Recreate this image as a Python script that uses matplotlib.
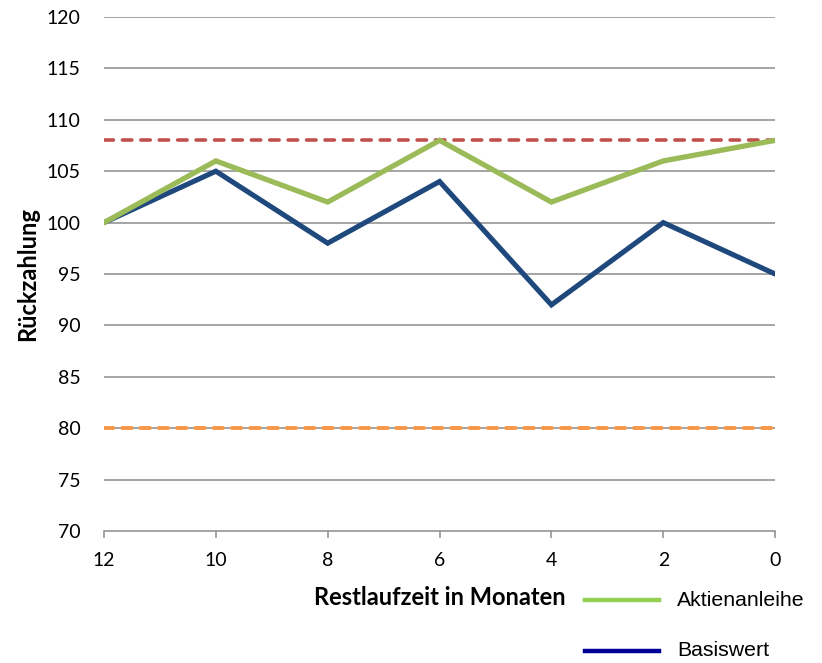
import matplotlib
matplotlib.use("Agg")
import matplotlib.pyplot as plt
from matplotlib.lines import Line2D

months = [12, 10, 8, 6, 4, 2, 0]
aktienanleihe = [100, 106, 102, 108, 102, 106, 108]
basiswert = [100, 105, 98, 104, 92, 100, 95]
cap_level = [108, 108, 108, 108, 108, 108, 108]
barrier_level = [80, 80, 80, 80, 80, 80, 80]
y_ticks = [70, 75, 80, 85, 90, 95, 100, 105, 110, 115, 120]
legend_labels = ["Aktienanleihe", "Basiswert"]

fig = plt.figure(figsize=(8.22, 6.63), dpi=100)
ax = fig.add_axes([0.1265, 0.199, 0.8165, 0.7754])

grid_col = "#8C8C8C"
for y in y_ticks[1:]:
    ax.axhline(y, color=grid_col, lw=1.1, zorder=1)

ax.plot(months, cap_level, color="#C0504D", lw=2.6, dashes=(2.6, 2.5),
        dash_capstyle="round", zorder=3)
ax.plot(months, barrier_level, color="#F79646", lw=2.8, dashes=(2.4, 2.3),
        dash_capstyle="round", zorder=3)
ax.plot(months, basiswert, color="#1F497D", lw=3.7, solid_capstyle="round",
        solid_joinstyle="miter", zorder=4)
ax.plot(months, aktienanleihe, color="#9BBB59", lw=3.8, solid_capstyle="round",
        solid_joinstyle="miter", zorder=5)

ax.set_xlim(12, 0)
ax.set_ylim(70, 120)
ax.set_xticks(months)
ax.set_yticks(y_ticks)

for s in ["top", "right", "left"]:
    ax.spines[s].set_visible(False)
ax.spines["bottom"].set_color(grid_col)
ax.spines["bottom"].set_linewidth(1.1)

tick_font = "Lato"
ax.tick_params(axis="x", direction="out", length=5, width=1.1, color=grid_col,
               pad=10, labelsize=14, labelcolor="black")
ax.tick_params(axis="y", length=0, pad=17, labelsize=14, labelcolor="black")
for lab in ax.get_xticklabels() + ax.get_yticklabels():
    lab.set_fontfamily(tick_font)

ax.set_ylabel("Rückzahlung", fontfamily=tick_font, fontweight="bold",
              fontsize=17, labelpad=5)
ax.set_xlabel("Restlaufzeit in Monaten", fontfamily=tick_font, fontweight="bold",
              fontsize=17, labelpad=12)

# legend drawn at fixed figure positions below the plot
legend_colors = ["#92D050", "#000099"]
legend_rows = [1 - 600 / 663, 1 - 651 / 663]
for label, col, yf in zip(legend_labels, legend_colors, legend_rows):
    fig.add_artist(Line2D([585 / 822, 659 / 822], [yf, yf], color=col, lw=3.2,
                          transform=fig.transFigure))
    fig.text(677 / 822, yf, label, fontfamily="Liberation Sans", fontsize=15.3,
             va="center", ha="left")

fig.savefig("out.png", dpi=100)
